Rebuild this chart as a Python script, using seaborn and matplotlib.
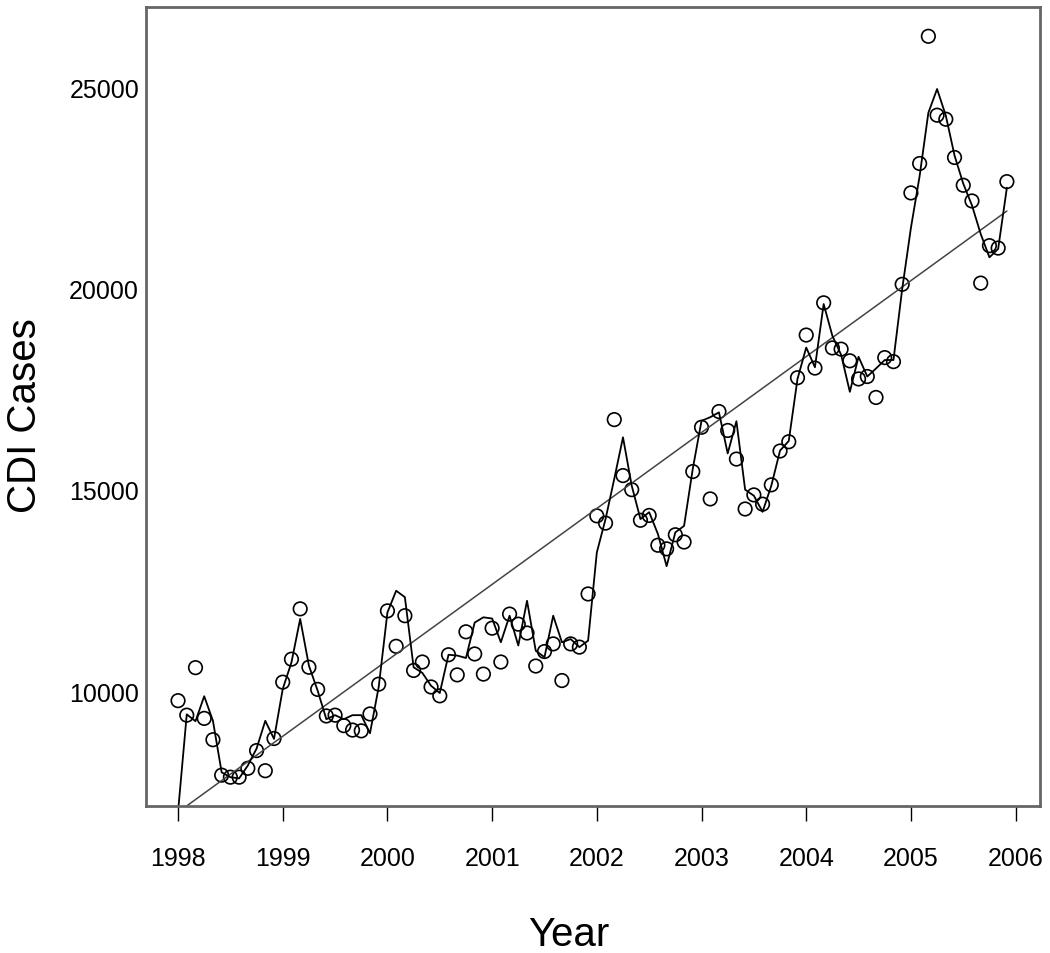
import numpy as np
import pandas as pd
import matplotlib
matplotlib.use("Agg")
import matplotlib.pyplot as plt
import seaborn as sns

# ---------- DATA ----------
year_ticks = [1998, 1999, 2000, 2001, 2002, 2003, 2004, 2005, 2006]
case_ticks = [10000, 15000, 20000, 25000]

# monthly observed CDI cases, Jan 1998 .. Dec 2005
cases = [
    9760, 9400, 10580, 9320, 8790, 7910, 7860, 7860, 8080, 8520, 8020, 8820,
    10220, 10790, 12040, 10590, 10040, 9380, 9400, 9140, 9030, 9010, 9430, 10170,
    11990, 11110, 11870, 10510, 10720, 10100, 9880, 10900, 10400, 11470, 10920, 10420,
    11560, 10720, 11910, 11660, 11440, 10620, 10980, 11170, 10260, 11170, 11090, 12410,
    14350, 14170, 16740, 15350, 15000, 14240, 14360, 13620, 13530, 13880, 13700, 15450,
    16550, 14770, 16940, 16470, 15760, 14520, 14870, 14640, 15120, 15960, 16190, 17780,
    18840, 18020, 19640, 18520, 18490, 18200, 17750, 17810, 17290, 18280, 18180, 20100,
    22370, 23100, 26260, 24300, 24200, 23250, 22560, 22170, 20130, 21060, 21000, 22650,
]

# fitted model values (solid line)
fitted = [
    7000, 9420, 9250, 9870, 9260, 7980, 7860, 7830, 8150, 8570, 9260, 8810,
    10050, 10710, 11790, 10630, 10010, 9300, 9400, 9300, 9400, 9400, 8950, 10100,
    11950, 12490, 12330, 10590, 10450, 10130, 9950, 10900, 10880, 10820, 11700, 11830,
    11800, 11210, 11870, 11130, 12240, 11000, 10840, 11870, 11210, 11290, 11090, 11250,
    13440, 14270, 15270, 16300, 15100, 14270, 14440, 13900, 13100, 13940, 14100, 15520,
    16710, 16800, 16920, 15900, 16700, 15000, 14850, 14450, 15100, 15970, 16210, 17750,
    18530, 18040, 19610, 18820, 18350, 17430, 18300, 17810, 18010, 18220, 18220, 19980,
    21500, 22790, 24360, 24950, 24290, 23300, 22600, 22060, 21350, 20770, 20980, 22500,
]

# linear trend: value at first and last month
trend_values = [6990, 21920]
# --------------------------


def main():
    month = np.arange(len(cases))
    df = pd.DataFrame({"time": 1998 + month / 12, "cases": cases, "fitted": fitted})
    trend = pd.DataFrame({"time": [df["time"].iloc[0], df["time"].iloc[-1]],
                          "value": trend_values})

    sns.set_style("ticks")
    plt.rcParams["font.family"] = ["Liberation Sans", "DejaVu Sans"]
    plt.rcParams["text.color"] = "black"
    plt.rcParams["axes.labelcolor"] = "black"
    plt.rcParams["xtick.color"] = "black"
    plt.rcParams["ytick.color"] = "black"

    fig = plt.figure(figsize=(10.5, 9.54), dpi=100)
    ax = fig.add_axes([146 / 1050, 1 - 807 / 954, 894 / 1050, 799 / 954])

    sns.lineplot(data=trend, x="time", y="value", ax=ax, color="#444444",
                 linewidth=1.1)
    sns.lineplot(data=df, x="time", y="fitted", ax=ax, color="black",
                 linewidth=1.3)
    sns.scatterplot(data=df, x="time", y="cases", ax=ax, s=95, marker="o",
                    facecolor="none", edgecolor="black", linewidth=1.2)

    ax.set_xlim(1997.694, 2006.233)
    ax.set_ylim(7144, 26987)
    ax.set_xticks(year_ticks)
    ax.set_xticklabels([str(y) for y in year_ticks])
    ax.set_yticks(case_ticks)
    ax.set_yticklabels([str(v) for v in case_ticks])

    ax.tick_params(axis="x", length=11, width=1, pad=18, labelsize=18)
    ax.tick_params(axis="y", length=0, pad=5, labelsize=18)

    for side in ax.spines.values():
        side.set_color("#666666")
        side.set_linewidth(2)

    ax.set_xlabel("Year", fontsize=29)
    ax.set_ylabel("CDI Cases", fontsize=29)
    ax.xaxis.label.set_va("center")
    ax.yaxis.label.set_va("center")
    ax.xaxis.set_label_coords((569 - 146) / 894, (807 - 935) / 799)
    ax.yaxis.set_label_coords((25 - 146) / 894, 0.49)

    fig.savefig("out.png", dpi=100)
    plt.close(fig)


if __name__ == "__main__":
    main()
